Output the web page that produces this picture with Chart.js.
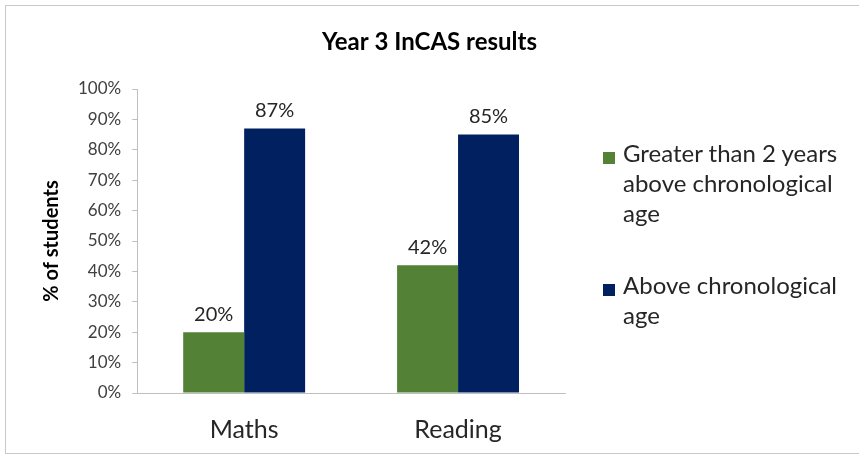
<!DOCTYPE html>
<html>
<head>
<meta charset="utf-8">
<script src="https://cdn.jsdelivr.net/npm/chart.js@4"></script>
<style>
  html, body { margin: 0; padding: 0; background: #fff; }
  #wrap { position: relative; width: 859px; height: 458px; overflow: hidden; }
  #frame { position: absolute; left: 5px; top: 5px; width: 870px; height: 449px; border: 1px solid #c8c8c8; box-sizing: border-box; }
  #legend { position: absolute; left: 603px; top: 138px; font-family: Lato, "Open Sans", sans-serif; font-size: 24px; line-height: 30px; color: #262626; }
  .item { display: flex; align-items: flex-start; margin-bottom: 42px; }
  .sw { width: 12px; height: 12px; margin: 14px 8px 0 0; flex: none; }
</style>
</head>
<body>
<div id="wrap">
  <div id="frame"></div>
  <canvas id="chart" width="859" height="458"></canvas>
  <div id="legend"></div>
</div>
<script>
const categories = ["Maths", "Reading"];
const chartTitle = "Year 3 InCAS results";
const seriesNames = [
  ["Greater than 2 years", "above chronological", "age"],
  ["Above chronological", "age"]
];
const greaterThan2 = [20, 42];
const aboveAge = [87, 85];
const colors = ["#538135", "#002060"];
const yTicks = [0, 10, 20, 30, 40, 50, 60, 70, 80, 90, 100];

const font = "Lato, 'Open Sans', sans-serif";

// value labels above each bar, plus the title centred on the whole canvas
const barLabels = {
  id: "barLabels",
  afterDatasetsDraw(chart) {
    const c = chart.ctx;
    c.save();
    c.font = "20px " + font;
    c.fillStyle = "#262626";
    c.textAlign = "center";
    c.textBaseline = "bottom";
    chart.data.datasets.forEach((ds, i) => {
      chart.getDatasetMeta(i).data.forEach((bar, j) => {
        c.fillText(ds.data[j] + "%", bar.x, bar.y - 8);
      });
    });
    c.font = "bold 24px " + font;
    c.fillStyle = "#000";
    c.textBaseline = "middle";
    c.fillText(chartTitle, chart.width / 2, 42);
    c.restore();
  }
};

// html legend with wrapped lines
const legendEl = document.getElementById("legend");
seriesNames.forEach((lines, i) => {
  const row = document.createElement("div");
  row.className = "item";
  row.innerHTML = `<div class="sw" style="background:${colors[i]}"></div><div>${lines.join("<br>")}</div>`;
  legendEl.appendChild(row);
});

new Chart(document.getElementById("chart"), {
  type: "bar",
  data: {
    labels: categories,
    datasets: [
      { label: seriesNames[0].join(" "), data: greaterThan2, backgroundColor: colors[0] },
      { label: seriesNames[1].join(" "), data: aboveAge, backgroundColor: colors[1] }
    ]
  },
  options: {
    responsive: false,
    animation: false,
    categoryPercentage: 0.57,
    barPercentage: 1,
    layout: { padding: { left: 36, right: 294, top: 89, bottom: 0 } },
    plugins: {
      legend: { display: false },
      tooltip: { enabled: false },
      title: { display: false }
    },
    scales: {
      x: {
        grid: { display: false },
        border: { color: "#bfbfbf" },
        ticks: { color: "#262626", font: { family: font, size: 25 }, padding: 14 },
        afterFit: (axis) => { axis.height = 65; }
      },
      y: {
        min: 0,
        max: 100,
        afterBuildTicks: (axis) => { axis.ticks = yTicks.map(v => ({ value: v })); },
        grid: { drawOnChartArea: false, drawTicks: true, tickLength: 5, color: "#bfbfbf" },
        border: { color: "#bfbfbf" },
        ticks: {
          color: "#404040",
          font: { family: font, size: 17 },
          padding: 11,
          callback: (v) => v + "%"
        },
        title: {
          display: true,
          text: "% of students",
          color: "#000",
          font: { family: font, size: 20, weight: "bold" },
          padding: { top: 4, bottom: 3 }
        }
      }
    }
  },
  plugins: [barLabels]
});
</script>
</body>
</html>
